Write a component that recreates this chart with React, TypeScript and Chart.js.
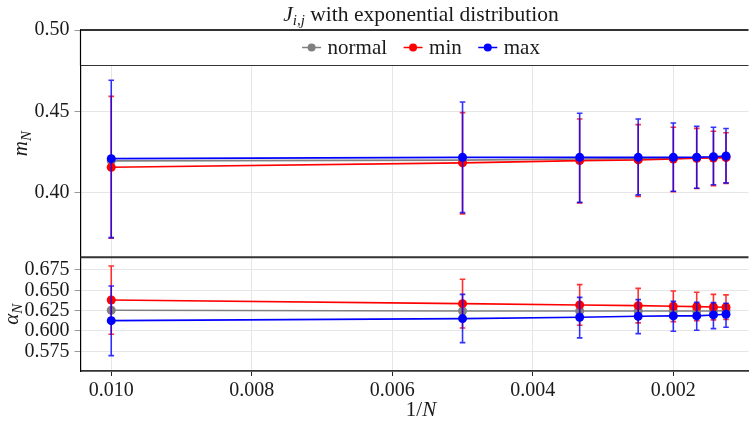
import React, { useEffect, useRef } from "react";
import { Chart, registerables } from "chart.js";
Chart.register(...registerables);

const N_INV = [0.01, 0.005, 0.003333, 0.0025, 0.002, 0.001667, 0.001429, 0.00125];
const X_TICKS = [0.002, 0.004, 0.006, 0.008, 0.01];
const M_TICKS = [0.4, 0.45, 0.5];
const A_TICKS = [0.575, 0.6, 0.625, 0.65, 0.675];

// m_N
const M_NORMAL = [0.4195, 0.42, 0.4207, 0.4209, 0.4212, 0.4214, 0.4217, 0.422];
const M_MIN = [0.4156, 0.4183, 0.4197, 0.4201, 0.4207, 0.4211, 0.4213, 0.4215];
const M_MIN_LO = [0.3719, 0.3869, 0.3937, 0.3977, 0.4005, 0.4025, 0.4042, 0.4056];
const M_MIN_HI = [0.4592, 0.4492, 0.4453, 0.4418, 0.4402, 0.4395, 0.4377, 0.4368];
const M_MAX = [0.4209, 0.4217, 0.4217, 0.4217, 0.4217, 0.4218, 0.4221, 0.4225];
const M_MAX_LO = [0.3723, 0.3877, 0.394, 0.3986, 0.4008, 0.4027, 0.4048, 0.406];
const M_MAX_HI = [0.4691, 0.4557, 0.4488, 0.4453, 0.4428, 0.4408, 0.4402, 0.4394];

// alpha_N
const A_NORMAL = [0.6254, 0.6246, 0.6245, 0.6245, 0.6245, 0.6245, 0.6246, 0.6248];
const A_MIN = [0.6381, 0.6336, 0.632, 0.6311, 0.6303, 0.6299, 0.6295, 0.6291];
const A_MIN_LO = [0.5959, 0.6037, 0.607, 0.6099, 0.6115, 0.6127, 0.6136, 0.6143];
const A_MIN_HI = [0.6799, 0.6635, 0.6569, 0.6524, 0.6492, 0.6475, 0.645, 0.6443];
const A_MAX = [0.6127, 0.6152, 0.6168, 0.618, 0.6185, 0.6185, 0.6197, 0.6205];
const A_MAX_LO = [0.5697, 0.5857, 0.5915, 0.5967, 0.5996, 0.6008, 0.6029, 0.6045];
const A_MAX_HI = [0.6553, 0.645, 0.6413, 0.6385, 0.6364, 0.6352, 0.6348, 0.634];

const SERIES_LABELS = ["normal", "min", "max"];
const COLORS = ["#808080", "#ff0000", "#0000ff"];
const ERR_COLORS = ["rgba(128,128,128,0.8)", "rgba(255,0,0,0.8)", "rgba(0,0,255,0.8)"];

const FAMILY = '"Liberation Serif", "DejaVu Serif", serif';

type Run = { text: string; font: string; dy?: number };

function drawRuns(ctx: CanvasRenderingContext2D, runs: Run[], cx: number, baseline: number) {
  let total = 0;
  const widths = runs.map((r) => {
    ctx.font = r.font;
    const w = ctx.measureText(r.text).width;
    total += w;
    return w;
  });
  let x = cx - total / 2;
  ctx.textAlign = "left";
  ctx.textBaseline = "alphabetic";
  runs.forEach((r, i) => {
    ctx.font = r.font;
    ctx.fillText(r.text, x, baseline + (r.dy || 0));
    x += widths[i];
  });
}

const errorBarPlugin = {
  id: "errbars",
  beforeDatasetDraw(chart: any, args: any) {
    const ds = chart.data.datasets[args.index];
    if (!ds.errLo) return;
    const ys = chart.scales[ds.yAxisID];
    const ctx = chart.ctx as CanvasRenderingContext2D;
    ctx.save();
    ctx.strokeStyle = ds.errColor;
    ctx.lineWidth = 1.6;
    args.meta.data.forEach((pt: any, i: number) => {
      const x = pt.x;
      const y1 = ys.getPixelForValue(ds.errLo[i]);
      const y2 = ys.getPixelForValue(ds.errHi[i]);
      ctx.beginPath();
      ctx.moveTo(x, y1);
      ctx.lineTo(x, y2);
      ctx.moveTo(x - 2.8, y1);
      ctx.lineTo(x + 2.8, y1);
      ctx.moveTo(x - 2.8, y2);
      ctx.lineTo(x + 2.8, y2);
      ctx.stroke();
    });
    ctx.restore();
  },
};

// horizontal centre of the full (partly clipped) axes box
const centerX = (area: any) => area.left + 340.5;

const decorPlugin = {
  id: "decor",
  afterDatasetsDraw(chart: any) {
    const ctx = chart.ctx as CanvasRenderingContext2D;
    const area = chart.chartArea;
    const yTop = chart.scales.yTop;
    const legendBottom = 65.5;
    ctx.save();
    // legend box
    ctx.fillStyle = "#ffffff";
    ctx.fillRect(area.left + 0.5, area.top, area.right - area.left, legendBottom - area.top);
    ctx.strokeStyle = "#333333";
    ctx.lineWidth = 1.2;
    ctx.beginPath();
    ctx.moveTo(area.left, legendBottom);
    ctx.lineTo(area.right, legendBottom);
    ctx.stroke();
    // frame lines
    ctx.lineWidth = 2;
    ctx.strokeStyle = "#333333";
    ctx.beginPath();
    ctx.moveTo(area.left, area.top);
    ctx.lineTo(area.right, area.top);
    ctx.moveTo(area.left, yTop.bottom);
    ctx.lineTo(area.right, yTop.bottom);
    ctx.stroke();
    ctx.lineWidth = 1.2;
    ctx.strokeStyle = "#000";
    ctx.beginPath();
    ctx.moveTo(area.left, area.top);
    ctx.lineTo(area.left, legendBottom);
    ctx.stroke();

    // legend items
    const font = `21px ${FAMILY}`;
    ctx.font = font;
    const markerW = 19;
    const gapMT = 6.5;
    const gapItem = 16.5;
    const tw = SERIES_LABELS.map((l) => ctx.measureText(l).width);
    let total = 0;
    tw.forEach((w, i) => {
      total += markerW + gapMT + w + (i < tw.length - 1 ? gapItem : 0);
    });
    const cx = centerX(area);
    let x = cx - total / 2;
    const ly = 47.5;
    SERIES_LABELS.forEach((label, i) => {
      ctx.strokeStyle = COLORS[i];
      ctx.lineWidth = 1.5;
      ctx.beginPath();
      ctx.moveTo(x, ly);
      ctx.lineTo(x + markerW, ly);
      ctx.stroke();
      ctx.fillStyle = COLORS[i];
      ctx.beginPath();
      ctx.arc(x + markerW / 2, ly, 4, 0, Math.PI * 2);
      ctx.fill();
      x += markerW + gapMT;
      ctx.fillStyle = "#1a1a1a";
      ctx.font = font;
      ctx.textAlign = "left";
      ctx.textBaseline = "middle";
      ctx.fillText(label, x, ly + 1);
      x += tw[i] + gapItem;
    });
    ctx.restore();
  },
  afterDraw(chart: any) {
    const ctx = chart.ctx as CanvasRenderingContext2D;
    const area = chart.chartArea;
    const yTop = chart.scales.yTop;
    const yBot = chart.scales.yBot;
    const cx = centerX(area);
    ctx.save();
    ctx.fillStyle = "#1a1a1a";
    // title
    drawRuns(
      ctx,
      [
        { text: "J", font: `italic 21.5px ${FAMILY}` },
        { text: "i,j", font: `italic 15px ${FAMILY}`, dy: 4 },
        { text: " with exponential distribution", font: `21.5px ${FAMILY}` },
      ],
      cx,
      21
    );
    // x label
    drawRuns(
      ctx,
      [
        { text: "1/", font: `21px ${FAMILY}` },
        { text: "N", font: `italic 21px ${FAMILY}` },
      ],
      cx,
      416
    );
    // y labels
    const yl = (runs: Run[], bx: number, cy: number) => {
      ctx.save();
      ctx.translate(bx, cy);
      ctx.rotate(-Math.PI / 2);
      drawRuns(ctx, runs, 0, 0);
      ctx.restore();
    };
    yl(
      [
        { text: "m", font: `italic 21px ${FAMILY}` },
        { text: "N", font: `italic 15px ${FAMILY}`, dy: 4 },
      ],
      27,
      (yTop.top + yTop.bottom) / 2
    );
    yl(
      [
        { text: "α", font: `italic 21px ${FAMILY}` },
        { text: "N", font: `italic 15px ${FAMILY}`, dy: 4 },
      ],
      18,
      (yBot.top + yBot.bottom) / 2
    );
    ctx.restore();
  },
};

function pts(ys: number[]) {
  return N_INV.map((x, i) => ({ x, y: ys[i] }));
}

function mkDataset(idx: number, ys: number[], axis: string, lo?: number[], hi?: number[]) {
  return {
    label: SERIES_LABELS[idx],
    data: pts(ys),
    yAxisID: axis,
    borderColor: COLORS[idx],
    backgroundColor: COLORS[idx],
    pointBackgroundColor: COLORS[idx],
    pointBorderColor: COLORS[idx],
    pointRadius: 4.5,
    pointBorderWidth: 0,
    borderWidth: 1.6,
    tension: 0,
    fill: false,
    order: 3 - idx,
    errLo: lo,
    errHi: hi,
    errColor: ERR_COLORS[idx],
  };
}

export default function App() {
  const ref = useRef<HTMLCanvasElement | null>(null);
  useEffect(() => {
    if (!ref.current) return;
    const tickFont = { family: FAMILY, size: 20 };
    const chart = new Chart(ref.current, {
      type: "line",
      data: {
        datasets: [
          mkDataset(0, M_NORMAL, "yTop"),
          mkDataset(1, M_MIN, "yTop", M_MIN_LO, M_MIN_HI),
          mkDataset(2, M_MAX, "yTop", M_MAX_LO, M_MAX_HI),
          mkDataset(0, A_NORMAL, "yBot"),
          mkDataset(1, A_MIN, "yBot", A_MIN_LO, A_MIN_HI),
          mkDataset(2, A_MAX, "yBot", A_MAX_LO, A_MAX_HI),
        ] as any,
      },
      options: {
        animation: false,
        responsive: false,
        devicePixelRatio: 1,
        layout: { padding: { top: 30, left: 0, right: 0, bottom: 0 } },
        plugins: { legend: { display: false }, tooltip: { enabled: false }, title: { display: false } },
        scales: {
          x: {
            type: "linear",
            reverse: true,
            min: 0.00093,
            max: 0.0104375,
            position: "bottom",
            afterBuildTicks: (s: any) => {
              s.ticks = X_TICKS.map((v) => ({ value: v }));
            },
            afterFit: (s: any) => {
              s.height = 53;
            },
            ticks: {
              font: tickFont,
              color: "#1a1a1a",
              padding: 3,
              maxRotation: 0,
              autoSkip: false,
              callback: (v: any) => Number(v).toFixed(3),
            },
            grid: { color: "#e6e6e6", tickColor: "#222", tickLength: 5, lineWidth: 1 },
            border: { display: true, color: "#333", width: 1.8 },
          },
          yBot: {
            type: "linear",
            position: "left",
            stack: "panels",
            stackWeight: 1,
            min: 0.5508,
            max: 0.6905,
            afterBuildTicks: (s: any) => {
              s.ticks = A_TICKS.map((v) => ({ value: v }));
            },
            afterFit: (s: any) => {
              s.width = 80.5;
            },
            ticks: {
              font: tickFont,
              color: "#1a1a1a",
              padding: 5,
              autoSkip: false,
              callback: (v: any) => Number(v).toFixed(3),
            },
            grid: { color: "#e6e6e6", tickColor: "#999", tickLength: 6, lineWidth: 1 },
            border: { display: true, color: "#000", width: 1.2 },
          },
          yTop: {
            type: "linear",
            position: "left",
            stack: "panels",
            stackWeight: 2,
            min: 0.3602,
            max: 0.5,
            afterBuildTicks: (s: any) => {
              s.ticks = M_TICKS.map((v) => ({ value: v }));
            },
            afterFit: (s: any) => {
              s.width = 80.5;
            },
            ticks: {
              font: tickFont,
              color: "#1a1a1a",
              padding: 5,
              autoSkip: false,
              callback: (v: any) => Number(v).toFixed(2),
            },
            grid: { color: "#e6e6e6", tickColor: "#999", tickLength: 6, lineWidth: 1 },
            border: { display: true, color: "#000", width: 1.2 },
          },
        },
      } as any,
      plugins: [errorBarPlugin, decorPlugin],
    });
    return () => chart.destroy();
  }, []);
  return (
    <div style={{ position: "fixed", left: 0, top: 0, width: 753, height: 424, background: "#fff" }}>
      <canvas ref={ref} width={753} height={424} style={{ display: "block" }} />
    </div>
  );
}
